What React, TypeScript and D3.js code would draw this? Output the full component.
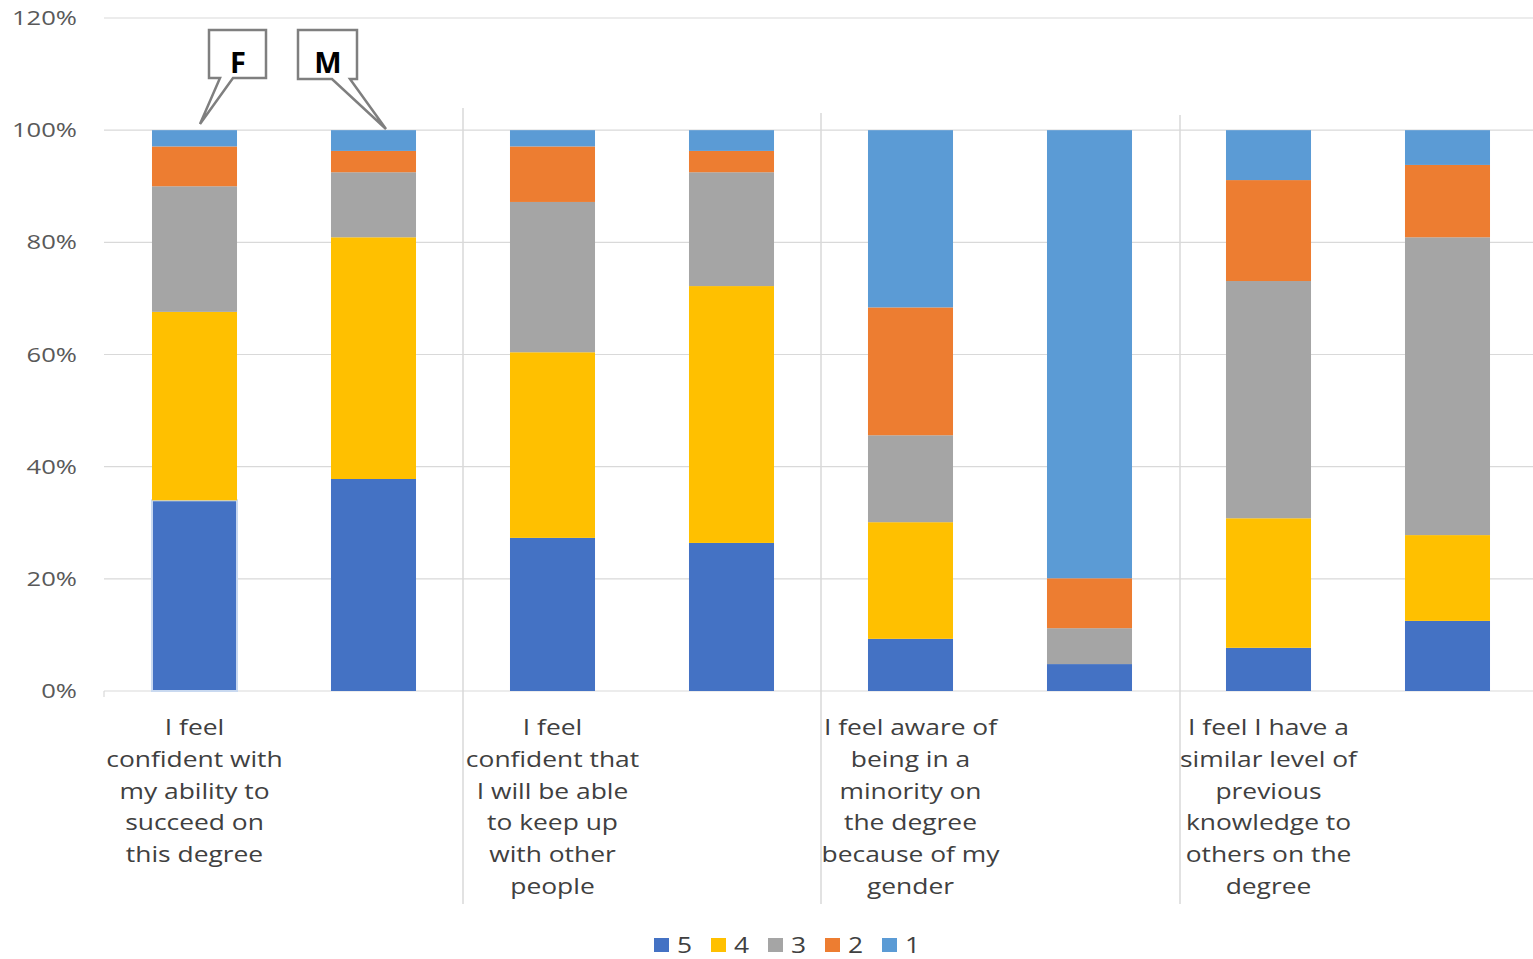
import React from "react";
import * as d3 from "d3";

const slots = ["F1", "M1", "F2", "M2", "F3", "M3", "F4", "M4"];
const series = ["5", "4", "3", "2", "1"];
const v5 = [34.0, 37.8, 27.3, 26.4, 9.3, 4.8, 7.7, 12.5];
const v4 = [33.6, 43.1, 33.1, 45.8, 20.8, 0.0, 23.1, 15.3];
const v3 = [22.4, 11.6, 26.8, 20.3, 15.5, 6.4, 42.3, 53.1];
const v2 = [7.1, 3.8, 9.9, 3.8, 22.8, 8.9, 18.0, 12.9];
const v1 = [2.9, 3.7, 2.9, 3.7, 31.6, 79.9, 8.9, 6.2];
const yTicks = [0, 20, 40, 60, 80, 100, 120];
const categoryLabels = [
  ["I feel", "confident with", "my ability to", "succeed on", "this degree"],
  ["I feel", "confident that", "I will be able", "to keep up", "with other", "people"],
  ["I feel aware of", "being in a", "minority on", "the degree", "because of my", "gender"],
  ["I feel I have a", "similar level of", "previous", "knowledge to", "others on the", "degree"],
];
const colors: Record<string, string> = {
  "5": "#4472C4",
  "4": "#FFC000",
  "3": "#A5A5A5",
  "2": "#ED7D31",
  "1": "#5B9BD5",
};

const W = 1533;
const H = 959;
const font = "'Open Sans', sans-serif";

export default function App() {
  const x = d3
    .scaleBand<string>()
    .domain(slots)
    .range([105, 1537])
    .paddingInner(0.525)
    .paddingOuter(0.2625);
  const y = d3.scaleLinear().domain([0, 120]).range([691, 18]);

  const rows = slots.map((s, i) => ({
    slot: s,
    "5": v5[i],
    "4": v4[i],
    "3": v3[i],
    "2": v2[i],
    "1": v1[i],
  }));
  const stack = d3.stack<any>().keys(series)(rows);

  const sepX = [463, 821, 1180];
  const sepTop = [108, 113, 115];

  return (
    <svg width={W} height={H} style={{ display: "block", position: "absolute", left: 0, top: 0 }}>
      <rect width={W} height={H} fill="#fff" />
      {yTicks.map((t) => (
        <g key={t}>
          <line x1={104} x2={1533} y1={y(t)} y2={y(t)} stroke="#d9d9d9" strokeWidth={1.2} />
          <g transform={`translate(77,${y(t)}) scale(1.28,1)`}>
            <text dy="0.35em" textAnchor="end" fontFamily={font} fontSize={20} fill="#595959">
              {t}%
            </text>
          </g>
        </g>
      ))}
      <line x1={104} x2={104} y1={691} y2={697} stroke="#d9d9d9" strokeWidth={1.2} />
      {sepX.map((sx, i) => (
        <line key={sx} x1={sx} x2={sx} y1={sepTop[i]} y2={904} stroke="#d9d9d9" strokeWidth={1.5} />
      ))}
      {stack.map((layer) => (
        <g key={layer.key} fill={colors[layer.key]}>
          {layer.map((d, i) => {
            const h = y(d[0]) - y(d[1]);
            if (h <= 0) return null;
            return (
              <rect
                key={i}
                x={x(slots[i])}
                y={y(d[1])}
                width={x.bandwidth()}
                height={h}
                stroke={layer.key === "5" && i === 0 ? "#c9d9f0" : "none"}
                strokeWidth={layer.key === "5" && i === 0 ? 2 : 0}
              />
            );
          })}
        </g>
      ))}
      {categoryLabels.map((lines, ci) => {
        const cx = (x(slots[ci * 2]) as number) + x.bandwidth() / 2;
        return (
          <g key={ci} transform={`translate(${cx},0) scale(1.2,1)`}>
            <text textAnchor="middle" fontFamily={font} fontSize={22} fill="#404040">
              {lines.map((l, li) => (
                <tspan key={li} x={0} y={735 + li * 31.8}>
                  {l}
                </tspan>
              ))}
            </text>
          </g>
        );
      })}
      {/* callouts */}
      <path
        d="M209,30 L266,30 L266,78 L233,78 L200,124 L220,78 L209,78 Z"
        fill="#fff"
        stroke="#7f7f7f"
        strokeWidth={2.5}
        strokeLinejoin="miter"
      />
      <text x={238} y={73} textAnchor="middle" fontFamily={font} fontWeight="bold" fontSize={29} fill="#000">
        F
      </text>
      <path
        d="M298,30 L357,30 L357,79 L350,79 L386,129 L332,79 L298,79 Z"
        fill="#fff"
        stroke="#7f7f7f"
        strokeWidth={2.5}
        strokeLinejoin="miter"
      />
      <text x={328} y={73} textAnchor="middle" fontFamily={font} fontWeight="bold" fontSize={29} fill="#000">
        M
      </text>
      {/* legend */}
      {series.map((s, i) => (
        <g key={s} transform={`translate(${654 + i * 57},938)`}>
          <rect width={15} height={14} fill={colors[s]} />
          <g transform="translate(23,7) scale(1.2,1)">
            <text dy="0.36em" fontFamily={font} fontSize={22} fill="#404040">
              {s}
            </text>
          </g>
        </g>
      ))}
    </svg>
  );
}
